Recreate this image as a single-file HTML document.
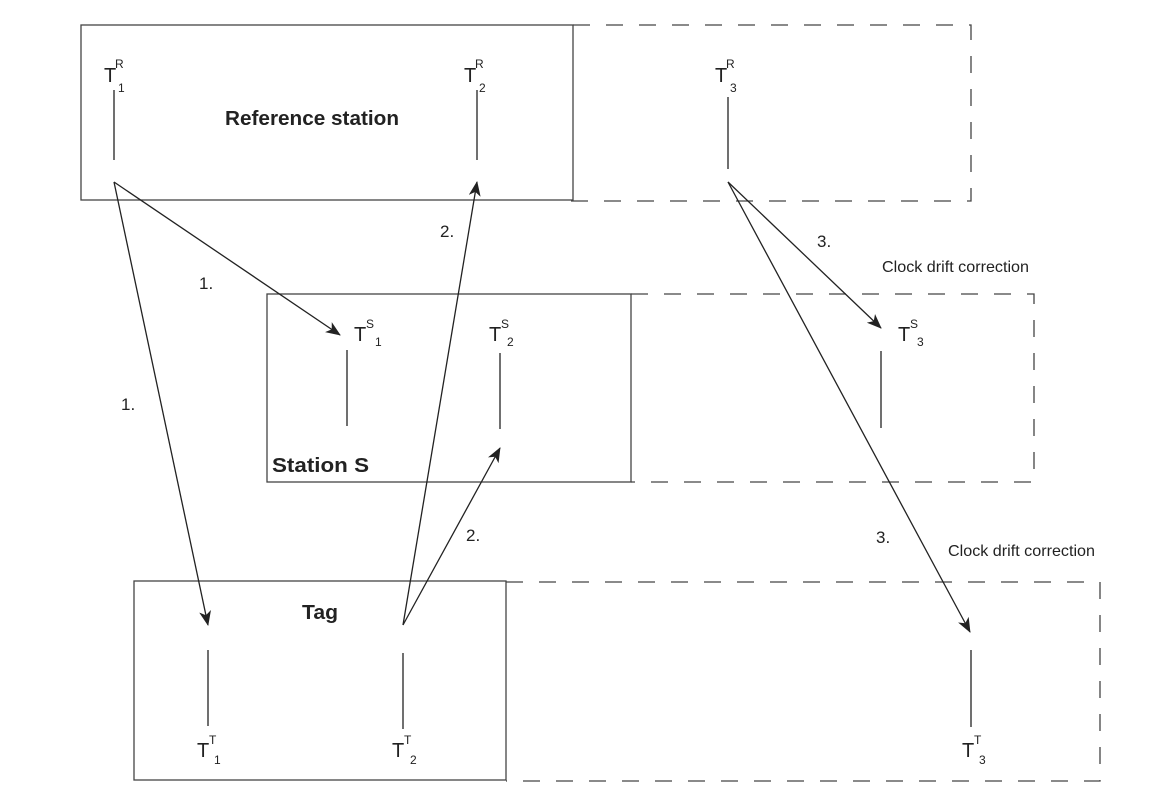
<!DOCTYPE html>
<html><head><style>
html,body{margin:0;padding:0;background:#fff;}
svg{display:block;}
text{font-family:"Liberation Sans",sans-serif;fill:#222;}
.T{font-size:20px;}
.s{font-size:12px;}
.b{font-size:20px;font-weight:bold;}
.n{font-size:17px;}
.c{font-size:16px;}
</style></head><body>
<svg width="1155" height="807" viewBox="0 0 1155 807" xmlns="http://www.w3.org/2000/svg">
<defs>
<marker id="a" markerWidth="15" markerHeight="12" refX="14" refY="6" orient="auto" markerUnits="userSpaceOnUse">
<path d="M0,0 L15,6 L0,12 L4,6 z" fill="#222"/>
</marker>
</defs>
<g fill="none" stroke="#444" stroke-width="1.3">
<rect x="81" y="25" width="492" height="175"/>
<path d="M573,25 H971 V201 H568" stroke-dasharray="17,16"/>
<rect x="267" y="294" width="364" height="188"/>
<path d="M631,294 H1034 V482 H631" stroke-dasharray="17,16"/>
<rect x="134" y="581" width="372" height="199"/>
<path d="M506,582 H1100 V781 H506" stroke-dasharray="17,16"/>
</g>
<g stroke="#222" stroke-width="1.3">
<line x1="114" y1="90" x2="114" y2="160"/>
<line x1="477" y1="90" x2="477" y2="160"/>
<line x1="728" y1="97" x2="728" y2="169"/>
<line x1="347" y1="350" x2="347" y2="426"/>
<line x1="500" y1="353" x2="500" y2="429"/>
<line x1="881" y1="351" x2="881" y2="428"/>
<line x1="208" y1="650" x2="208" y2="726"/>
<line x1="403" y1="653" x2="403" y2="729"/>
<line x1="971" y1="650" x2="971" y2="727"/>
</g>
<g stroke="#222" stroke-width="1.3" marker-end="url(#a)">
<line x1="114" y1="182" x2="340" y2="335"/>
<line x1="114" y1="182" x2="208" y2="625"/>
<line x1="403" y1="625" x2="477" y2="182"/>
<line x1="403" y1="625" x2="500" y2="448"/>
<line x1="728" y1="182" x2="881" y2="328"/>
<line x1="728" y1="182" x2="970" y2="632"/>
</g>
<text class="T" x="104" y="82">T</text><text class="s" x="115" y="68">R</text><text class="s" x="118" y="92">1</text>
<text class="T" x="464" y="82">T</text><text class="s" x="475" y="68">R</text><text class="s" x="479" y="92">2</text>
<text class="T" x="715" y="82">T</text><text class="s" x="726" y="68">R</text><text class="s" x="730" y="92">3</text>
<text class="T" x="354" y="341">T</text><text class="s" x="366" y="328">S</text><text class="s" x="375" y="346">1</text>
<text class="T" x="489" y="341">T</text><text class="s" x="501" y="328">S</text><text class="s" x="507" y="346">2</text>
<text class="T" x="898" y="341">T</text><text class="s" x="910" y="328">S</text><text class="s" x="917" y="346">3</text>
<text class="T" x="197" y="757">T</text><text class="s" x="209" y="744">T</text><text class="s" x="214" y="764">1</text>
<text class="T" x="392" y="757">T</text><text class="s" x="404" y="744">T</text><text class="s" x="410" y="764">2</text>
<text class="T" x="962" y="757">T</text><text class="s" x="974" y="744">T</text><text class="s" x="979" y="764">3</text>
<text class="b" x="225" y="125" textLength="174" lengthAdjust="spacingAndGlyphs">Reference station</text>
<text class="b" x="272" y="472" textLength="97" lengthAdjust="spacingAndGlyphs">Station S</text>
<text class="b" x="302" y="619" textLength="36" lengthAdjust="spacingAndGlyphs">Tag</text>
<text class="n" x="199" y="289">1.</text>
<text class="n" x="121" y="410">1.</text>
<text class="n" x="440" y="237">2.</text>
<text class="n" x="466" y="541">2.</text>
<text class="n" x="817" y="247">3.</text>
<text class="n" x="876" y="543">3.</text>
<text class="c" x="882" y="272" textLength="147" lengthAdjust="spacingAndGlyphs">Clock drift correction</text>
<text class="c" x="948" y="556" textLength="147" lengthAdjust="spacingAndGlyphs">Clock drift correction</text>
</svg>
</body></html>
